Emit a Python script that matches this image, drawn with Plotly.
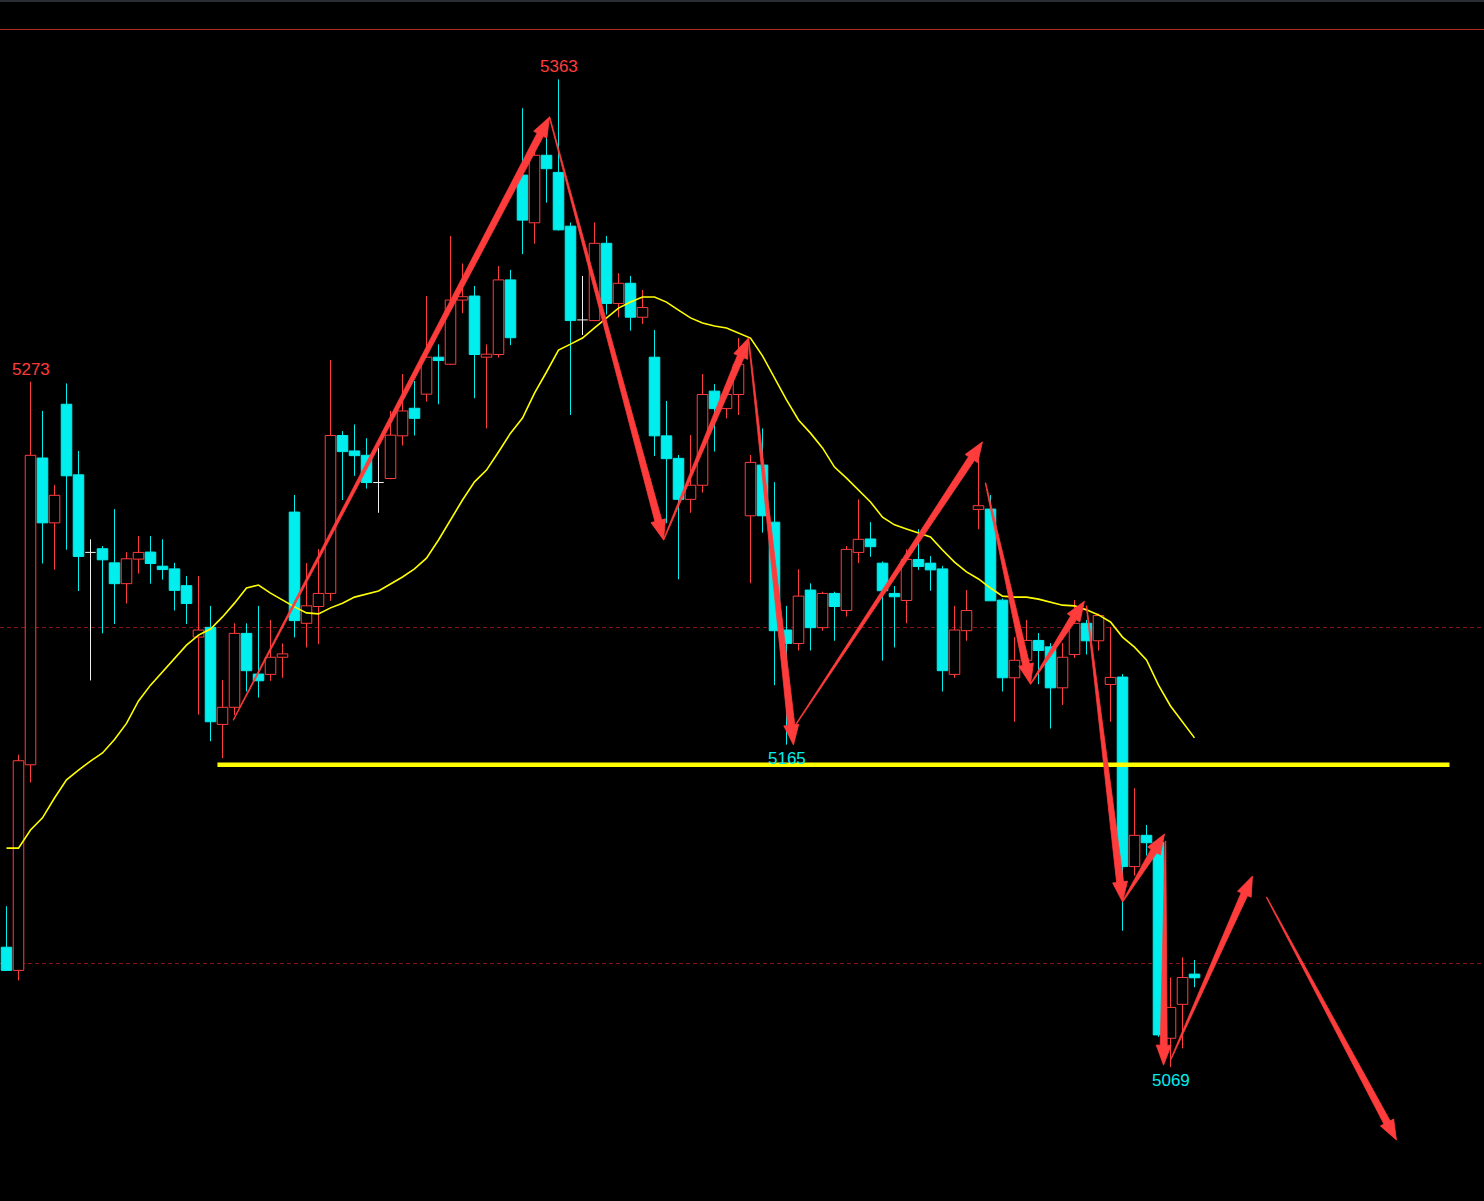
import math
import plotly.graph_objects as go

# ---------------- data ----------------
opens = [5104.7, 5097.8, 5159.0, 5250.3, 5231.0, 5266.3, 5245.3, 5222.2, 5223.3, 5219.1,
         5212.9, 5220.2, 5222.3, 5218.1, 5217.3, 5212.3, 5197.0, 5199.9, 5171.0, 5176.1,
         5198.1, 5186.0, 5185.9, 5191.0, 5234.2, 5201.1, 5206.1, 5210.0, 5257.0, 5252.4,
         5251.1, 5243.0, 5244.2, 5256.9, 5265.1, 5269.3, 5280.3, 5278.2, 5297.3, 5298.5,
         5280.3, 5281.1, 5303.3, 5334.5, 5320.3, 5340.4, 5335.3, 5319.3, 5291.4, 5291.2,
         5314.2, 5296.3, 5302.3, 5292.2, 5280.3, 5256.9, 5250.2, 5238.0, 5242.2, 5270.2,
         5265.0, 5269.2, 5233.1, 5248.2, 5231.2, 5199.1, 5195.1, 5211.0, 5199.8, 5210.0,
         5204.9, 5222.2, 5226.2, 5219.0, 5210.0, 5207.9, 5220.1, 5219.0, 5217.3, 5185.9,
         5198.9, 5235.0, 5235.1, 5208.0, 5184.9, 5190.1, 5196.0, 5194.1, 5181.9, 5191.8,
         5201.1, 5195.9, 5182.9, 5185.1, 5128.7, 5138.0, 5135.9, 5077.6, 5087.7, 5096.7]
highs = [5116.9, 5162.0, 5273.0, 5264.3, 5242.3, 5272.5, 5252.4, 5226.1, 5224.1, 5235.1,
         5222.3, 5227.1, 5227.1, 5226.1, 5219.1, 5215.2, 5215.2, 5206.3, 5184.2, 5201.1,
         5201.1, 5206.3, 5202.1, 5195.1, 5239.3, 5219.0, 5223.2, 5279.5, 5258.3, 5260.3,
         5256.2, 5253.2, 5264.3, 5275.3, 5273.2, 5298.5, 5284.1, 5316.4, 5308.2, 5301.5,
         5284.1, 5307.4, 5306.3, 5354.4, 5342.0, 5346.4, 5363.0, 5320.4, 5304.5, 5320.4,
         5316.4, 5305.3, 5304.5, 5300.3, 5288.4, 5267.3, 5251.2, 5257.1, 5275.3, 5272.3,
         5270.5, 5286.0, 5251.2, 5259.1, 5243.1, 5206.3, 5217.2, 5213.0, 5210.5, 5210.5,
         5224.1, 5238.0, 5231.2, 5219.5, 5212.2, 5223.1, 5229.1, 5221.1, 5218.2, 5206.3,
         5211.0, 5252.0, 5239.3, 5208.5, 5197.0, 5202.1, 5198.2, 5195.2, 5195.2, 5208.0,
         5202.1, 5204.0, 5200.0, 5186.0, 5152.0, 5141.1, 5137.0, 5095.7, 5101.7, 5100.9]
lows = [5097.8, 5094.8, 5153.7, 5218.9, 5217.1, 5223.0, 5210.7, 5184.1, 5198.1, 5200.9,
        5207.0, 5215.9, 5212.9, 5214.1, 5204.9, 5200.9, 5173.9, 5166.0, 5161.0, 5173.8,
        5180.8, 5179.0, 5184.0, 5184.9, 5196.9, 5193.9, 5194.9, 5207.8, 5237.8, 5245.0,
        5241.2, 5234.0, 5244.0, 5254.0, 5257.0, 5267.1, 5266.3, 5278.0, 5293.4, 5268.1,
        5259.1, 5280.2, 5283.9, 5311.0, 5314.1, 5326.3, 5318.0, 5263.1, 5286.9, 5291.0,
        5293.0, 5292.2, 5288.2, 5290.2, 5250.9, 5230.9, 5214.2, 5234.0, 5240.0, 5252.2,
        5262.1, 5263.1, 5213.0, 5228.1, 5182.7, 5165.0, 5193.0, 5193.0, 5198.9, 5195.9,
        5203.1, 5219.0, 5220.9, 5190.0, 5193.9, 5201.1, 5217.0, 5210.8, 5180.8, 5184.9,
        5195.9, 5229.1, 5207.8, 5180.8, 5171.8, 5188.0, 5183.0, 5169.8, 5176.8, 5190.8,
        5191.8, 5193.0, 5171.8, 5109.6, 5126.0, 5132.0, 5078.0, 5069.0, 5074.6, 5092.8]
closes = [5097.8, 5160.2, 5251.1, 5231.0, 5239.2, 5245.0, 5221.0, 5222.2, 5220.0, 5212.9,
          5220.3, 5222.2, 5218.9, 5217.1, 5210.9, 5207.0, 5199.1, 5171.8, 5176.1, 5198.1,
          5187.0, 5184.0, 5191.0, 5192.0, 5201.9, 5206.3, 5210.0, 5257.0, 5252.2, 5251.0,
          5243.0, 5243.0, 5257.1, 5264.3, 5262.1, 5280.3, 5279.3, 5297.3, 5298.3, 5281.1,
          5281.2, 5303.3, 5286.1, 5321.1, 5340.4, 5336.4, 5318.2, 5291.2, 5291.4, 5314.2,
          5296.3, 5302.3, 5292.2, 5295.1, 5256.9, 5250.1, 5238.0, 5242.2, 5269.2, 5265.0,
          5269.2, 5278.2, 5249.0, 5233.1, 5198.9, 5195.1, 5209.2, 5199.8, 5210.0, 5206.1,
          5223.1, 5226.1, 5223.9, 5210.8, 5209.0, 5220.1, 5218.0, 5217.0, 5187.0, 5199.1,
          5204.9, 5236.1, 5207.8, 5184.9, 5190.1, 5196.0, 5193.0, 5181.9, 5191.0, 5201.1,
          5195.9, 5203.4, 5185.0, 5128.7, 5138.0, 5135.8, 5078.6, 5086.8, 5095.7, 5095.6]
ma_values = [5134.2, 5134.2, 5139.6, 5143.2, 5149.1, 5154.5, 5157.4, 5160.1, 5162.5, 5166.5,
             5171.3, 5178.0, 5182.7, 5186.6, 5190.5, 5194.6, 5197.6, 5199.4, 5203.0, 5207.1,
             5211.6, 5212.5, 5210.1, 5208.0, 5206.0, 5204.2, 5203.9, 5205.7, 5207.1, 5208.9,
             5209.8, 5210.7, 5212.8, 5214.9, 5217.3, 5220.5, 5225.9, 5231.8, 5237.8, 5243.2,
             5246.7, 5252.1, 5257.7, 5262.2, 5269.6, 5275.9, 5282.4, 5284.2, 5286.0, 5289.0,
             5292.0, 5294.9, 5296.7, 5298.2, 5298.2, 5296.7, 5294.3, 5292.0, 5290.5, 5289.6,
             5289.0, 5287.5, 5286.0, 5280.7, 5274.1, 5267.6, 5261.6, 5257.7, 5253.3, 5247.6,
             5244.3, 5240.8, 5237.2, 5232.7, 5230.4, 5229.2, 5228.0, 5226.8, 5222.9, 5219.3,
             5216.4, 5214.3, 5211.6, 5209.2, 5208.9, 5208.9, 5208.3, 5207.4, 5206.5, 5206.3,
             5205.1, 5203.6, 5201.5, 5197.0, 5194.0, 5190.2, 5182.7, 5176.5, 5171.7, 5167.0]

# hand-drawn arrows (bar index, price)
arrow_x0 = [18.9, 45.25, 54.75, 61.83, 65.58, 81.58, 85.33, 90.0, 93.0, 96.58, 97.0, 105.0]
arrow_y0 = [5172.3, 5351.8, 5225.9, 5286.0, 5169.9, 5242.9, 5183.0, 5206.3, 5118.2, 5136.3, 5071.1, 5119.6]
arrow_x1 = [45.25, 54.75, 61.83, 65.58, 81.33, 85.33, 89.83, 93.0, 96.5, 96.42, 103.83, 115.83]
arrow_y1 = [5351.8, 5225.9, 5286.0, 5164.9, 5255.1, 5183.0, 5207.7, 5118.2, 5138.4, 5069.6, 5125.9, 5047.3]

support_price = 5159.0
support_x = [17.58, 120.25]

label_idx = [2, 46, 65, 97]
label_side = ["high", "high", "low", "low"]

grid_prices = [5100, 5200]

# ---------------- style ----------------
W, H = 1484, 1201
X_RANGE = [-0.5417, 123.125]
Y_RANGE = [5029.17, 5386.61]
RED = "#ff3c3c"
CYAN = "#00eeee"
WHITE = "#f0f0f0"
YELLOW = "#ffff00"
BODY_W = 0.88

n = len(opens)
xs = list(range(n))

fig = go.Figure()

# wicks
wick = {"up": ([], []), "down": ([], []), "doji": ([], [])}
doji_bar = ([], [])
for i in xs:
    o, h, l, c = opens[i], highs[i], lows[i], closes[i]
    if c > o:
        k = "up"
    elif c < o:
        k = "down"
    else:
        k = "doji"
    wx, wy = wick[k]
    if k == "doji":
        wx += [i, i, None]
        wy += [h, l, None]
        doji_bar[0].extend([i - BODY_W / 2, i + BODY_W / 2, None])
        doji_bar[1].extend([o, o, None])
    else:
        top, bot = max(o, c), min(o, c)
        wx += [i, i, None, i, i, None]
        wy += [h, top, None, bot, l, None]

for k, col in (("up", RED), ("down", CYAN), ("doji", WHITE)):
    fig.add_trace(go.Scatter(x=wick[k][0], y=wick[k][1], mode="lines",
                             line=dict(color=col, width=1), hoverinfo="skip"))
fig.add_trace(go.Scatter(x=doji_bar[0], y=doji_bar[1], mode="lines",
                         line=dict(color=WHITE, width=1), hoverinfo="skip"))

# bodies
bx, bbase, bh, fill, lcol = [], [], [], [], []
for i in xs:
    o, c = opens[i], closes[i]
    if c == o:
        continue
    bx.append(i)
    bbase.append(min(o, c))
    bh.append(abs(c - o))
    if c > o:
        fill.append("#000000")
        lcol.append(RED)
    else:
        fill.append(CYAN)
        lcol.append(CYAN)
fig.add_trace(go.Bar(x=bx, y=bh, base=bbase, width=BODY_W,
                     marker=dict(color=fill, line=dict(color=lcol, width=1)),
                     hoverinfo="skip"))

# moving average
fig.add_trace(go.Scatter(x=xs, y=ma_values, mode="lines",
                         line=dict(color=YELLOW, width=1.6), hoverinfo="skip"))

# support line
fig.add_trace(go.Scatter(x=support_x, y=[support_price, support_price], mode="lines",
                         line=dict(color=YELLOW, width=4.5), hoverinfo="skip"))

# tapered arrows
sx = W / (X_RANGE[1] - X_RANGE[0])
sy = H / (Y_RANGE[1] - Y_RANGE[0])


def arrow_polygon(x0, y0, x1, y1, w_tail=0.6, w_shaft=7.0, head_len=20.0, head_w=15.0):
    X0, Y0, X1, Y1 = x0 * sx, y0 * sy, x1 * sx, y1 * sy
    dx, dy = X1 - X0, Y1 - Y0
    L = math.hypot(dx, dy)
    ux, uy = dx / L, dy / L
    nx, ny = -uy, ux
    BX, BY = X1 - ux * head_len, Y1 - uy * head_len
    pts = [
        (X0 + nx * w_tail / 2, Y0 + ny * w_tail / 2),
        (BX + nx * w_shaft / 2, BY + ny * w_shaft / 2),
        (BX + nx * head_w / 2, BY + ny * head_w / 2),
        (X1, Y1),
        (BX - nx * head_w / 2, BY - ny * head_w / 2),
        (BX - nx * w_shaft / 2, BY - ny * w_shaft / 2),
        (X0 - nx * w_tail / 2, Y0 - ny * w_tail / 2),
    ]
    return [p[0] / sx for p in pts] + [pts[0][0] / sx], [p[1] / sy for p in pts] + [pts[0][1] / sy]


for a in range(len(arrow_x0)):
    px, py = arrow_polygon(arrow_x0[a], arrow_y0[a], arrow_x1[a], arrow_y1[a])
    fig.add_trace(go.Scatter(x=px, y=py, mode="lines", fill="toself", fillcolor=RED,
                             line=dict(color=RED, width=0.8), hoverinfo="skip"))

# price labels
for i, side in zip(label_idx, label_side):
    if side == "high":
        fig.add_annotation(x=i, y=highs[i], text=f"{highs[i]:.0f}", showarrow=False,
                           yanchor="bottom", yshift=1,
                           font=dict(family="Liberation Sans, Arial", size=17, color=RED))
    else:
        fig.add_annotation(x=i, y=lows[i], text=f"{lows[i]:.0f}", showarrow=False,
                           yanchor="top", yshift=-2,
                           font=dict(family="Liberation Sans, Arial", size=17, color=CYAN))

# frame decorations
fig.add_shape(type="rect", xref="paper", yref="paper", x0=0, x1=1, y0=1 - 2 / H, y1=1,
              fillcolor="#2a2d33", line=dict(width=0), layer="above")
fig.add_shape(type="line", xref="paper", yref="paper", x0=0, x1=1, y0=1 - 29.5 / H, y1=1 - 29.5 / H,
              line=dict(color="#b02822", width=1), layer="above")

fig.update_layout(
    width=W, height=H, margin=dict(l=0, r=0, t=0, b=0),
    paper_bgcolor="#000000", plot_bgcolor="#000000",
    showlegend=False, barmode="overlay",
    xaxis=dict(range=X_RANGE, showgrid=False, zeroline=False, showticklabels=False,
               showline=False, ticks=""),
    yaxis=dict(range=Y_RANGE, tickvals=grid_prices, showgrid=True, gridcolor="#8a1414",
               gridwidth=1, griddash="4px,3px", zeroline=False, showticklabels=False,
               showline=False, ticks=""),
)

fig.write_html("out.html", config={"displayModeBar": False},
               post_script="document.body.style.margin='0';document.body.style.background='#000';document.body.style.overflow='hidden';")
